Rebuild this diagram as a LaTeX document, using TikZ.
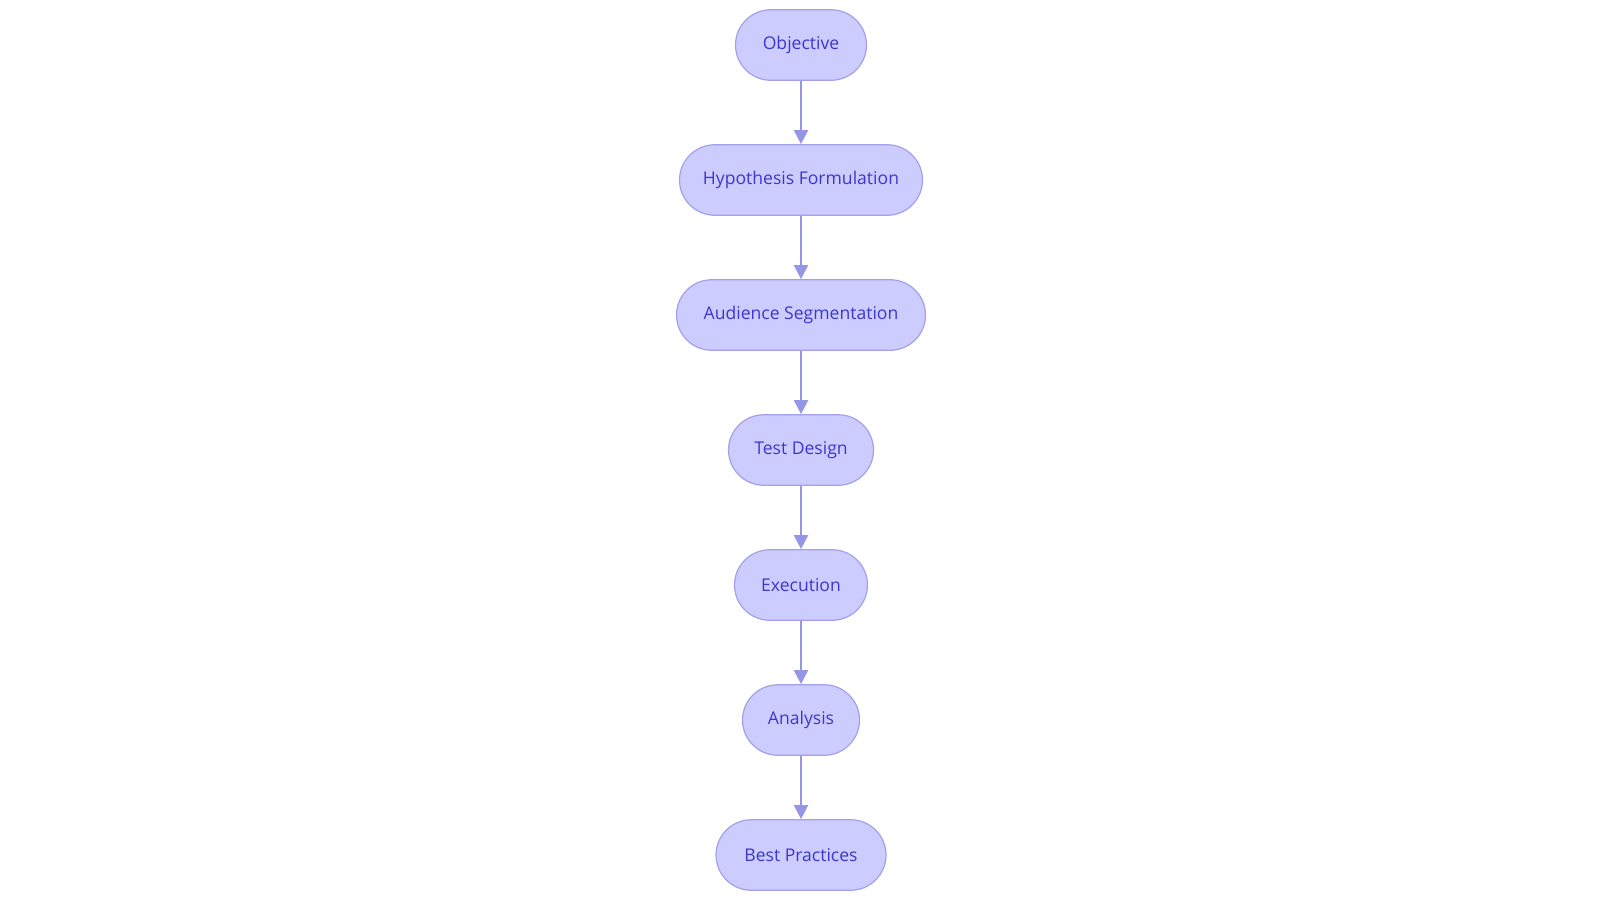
\documentclass[tikz,border=0pt]{standalone}
\usepackage{fontspec}
\setmainfont{Open Sans}
\usetikzlibrary{arrows.meta}
\definecolor{st_fill}{RGB}{204, 204, 255}
\definecolor{st_draw}{RGB}{165, 160, 235}
\definecolor{st_text}{RGB}{60, 55, 205}
\definecolor{st_edge}{RGB}{150, 150, 230}
\tikzstyle{stage}=[rectangle,rounded corners=0.353cm,fill=st_fill,draw=st_draw,
  line width=0.35pt,minimum height=0.705cm,inner sep=0pt,text=st_text,
  font=\fontsize{5.0}{6}\selectfont]
\tikzstyle{flow}=[draw=st_edge,line width=0.6pt,-{Triangle[length=4pt,width=4pt]}]

\begin{document}
\begin{tikzpicture}
            \useasboundingbox (0,0) rectangle (16,-9.03);
            \node [style=stage,minimum width=1.31cm] (0) at (8.01, -0.45) {Objective};
            \node [style=stage,minimum width=2.43cm] (1) at (8.01, -1.80) {Hypothesis Formulation};
            \node [style=stage,minimum width=2.49cm] (2) at (8.01, -3.15) {Audience Segmentation};
            \node [style=stage,minimum width=1.45cm] (3) at (8.01, -4.50) {Test Design};
            \node [style=stage,minimum width=1.33cm] (4) at (8.01, -5.85) {Execution};
            \node [style=stage,minimum width=1.17cm] (5) at (8.01, -7.20) {Analysis};
            \node [style=stage,minimum width=1.70cm] (6) at (8.01, -8.55) {Best Practices};
            \draw [style=flow] (0) to (1);
            \draw [style=flow] (1) to (2);
            \draw [style=flow] (2) to (3);
            \draw [style=flow] (3) to (4);
            \draw [style=flow] (4) to (5);
            \draw [style=flow] (5) to (6);
    \end{tikzpicture}
\end{document}
